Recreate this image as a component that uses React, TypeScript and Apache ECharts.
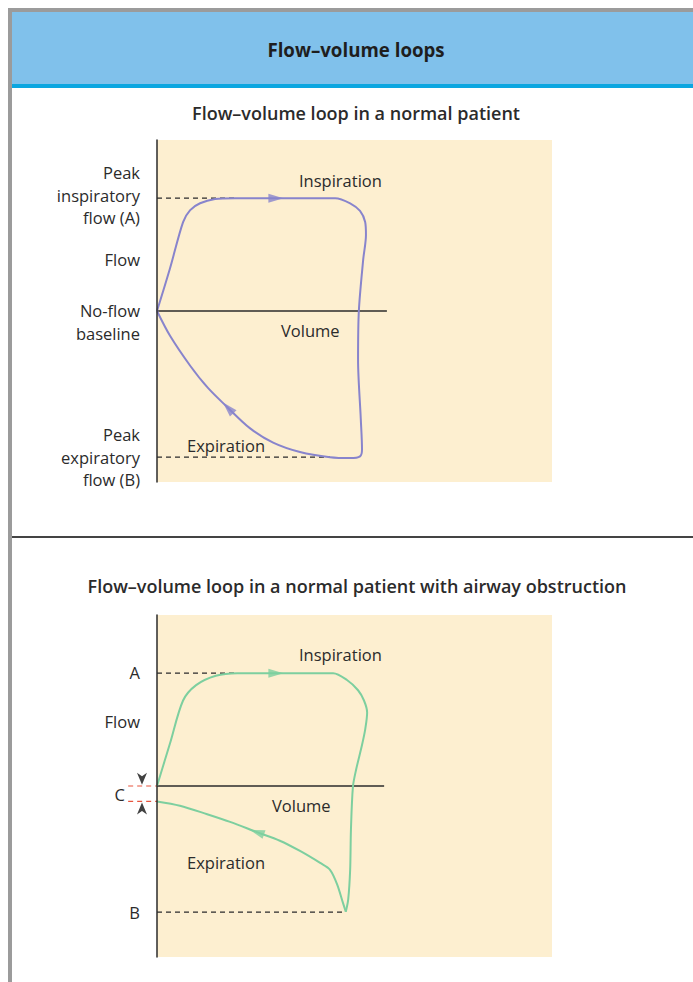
import React, { useEffect, useRef } from "react";
import * as echarts from "echarts";

// ---------- data (volume in arbitrary units 0..100, flow in arbitrary units -10..10) ----------
const loop1Volume = [0, 3.3, 6.6, 8.4, 10.9, 14.7, 19.7, 31.1, 45.1, 48.9, 51.4, 52.7, 52.9, 52.2, 51.1, 50.9, 51.6, 51.9, 51.4, 48.9, 43.8, 36.2, 29.4, 23.5, 18.0, 12.9, 8.4, 3.3, 0];
const loop1Flow = [0, 2.5, 5.2, 5.9, 6.3, 6.55, 6.6, 6.6, 6.6, 6.3, 5.85, 5.2, 4.45, 3.0, 0, -2.85, -6.35, -8.1, -8.5, -8.6, -8.55, -8.25, -7.7, -6.85, -5.67, -4.5, -3.2, -1.45, 0];

const loop2InspVolume = [0, 3.3, 6.6, 9.9, 14.9, 20.3, 31.1, 44.6, 48.1, 50.9, 52.4, 53.2, 52.7, 51.9, 50.4, 49.6, 49.1, 48.9, 48.4, 47.8];
const loop2InspFlow = [0, 2.5, 5.0, 5.9, 6.45, 6.6, 6.6, 6.6, 6.2, 5.6, 5.0, 4.3, 3.3, 2.4, 0.95, -0.05, -2.55, -4.9, -6.65, -7.35];
const loop2ExpVolume = [47.8, 47.1, 45.6, 43.8, 41.3, 36.2, 31.1, 25.3, 18.5, 12.7, 5.8, 0];
const loop2ExpFlow = [-7.35, -6.85, -5.75, -4.9, -4.5, -3.8, -3.2, -2.7, -2.1, -1.65, -1.15, -0.9];

const peakInsp1 = 6.6;
const peakExp1 = -8.55;
const peakInsp2 = 6.6;
const peakExp2 = -7.37;
const cGapTop = 0;
const cGapBottom = -0.9;

const titleText = "Flow\u2013volume loops";
const subtitles = ["Flow\u2013volume loop in a normal patient", "Flow\u2013volume loop in a normal patient with airway obstruction"];
const sideLabels1 = ["Peak\ninspiratory\nflow (A)", "Flow", "No-flow\nbaseline", "Peak\nexpiratory\nflow (B)"];
const sideLabels2 = ["A", "Flow", "C", "B"];
const plotLabels = ["Inspiration", "Volume", "Expiration"];

const zip = (a: number[], b: number[]) => a.map((v, i) => [v, b[i]]);

const PURPLE = "#8884cc";
const GREEN = "#7dcf9f";
const INK = "#2b2b2b";
const CREAM = "#fdefd0";
const FONT = "'Open Sans', 'Noto Sans', sans-serif";
const ARROW_DOWN = "path://M0,0 L5,3.5 L10,0 L5,12 Z";
const ARROW_UP = "path://M5,0 L10,12 L5,8.5 L0,12 Z";

export default function App() {
  const ref = useRef<HTMLDivElement>(null);
  useEffect(() => {
    if (!ref.current) return;
    const chart = echarts.init(ref.current, undefined, { renderer: "svg" });

    const lineS = (data: number[][], gi: number, color: string, extra: any = {}) => ({
      type: "line",
      xAxisIndex: gi,
      yAxisIndex: gi,
      data,
      showSymbol: false,
      symbol: "none",
      silent: true,
      clip: false,
      lineStyle: { color, width: 2 },
      ...extra,
    });
    const dashS = (data: number[][], gi: number, color = INK) =>
      lineS(data, gi, color, { lineStyle: { color, width: 1.2, type: [5, 4] }, z: 3 });
    const arrowS = (pt: number[], gi: number, color: string, rot: number, symbol = "triangle", size: number[] = [9, 15]) => ({
      type: "scatter",
      xAxisIndex: gi,
      yAxisIndex: gi,
      data: [pt],
      symbol,
      symbolSize: size,
      symbolRotate: rot,
      itemStyle: { color },
      silent: true,
      clip: false,
      z: 5,
    });
    const creamS = (gi: number) => ({
      type: "line",
      xAxisIndex: gi,
      yAxisIndex: gi,
      data: [],
      silent: true,
      z: 0,
      markArea: {
        silent: true,
        itemStyle: { color: CREAM },
        data: [[{ coord: [0, -10] }, { coord: [100, 10] }]],
      },
    });

    const txt = (text: string, x: number, y: number, align = "right", extra: any = {}) => ({
      type: "text",
      x,
      y,
      z: 100,
      silent: true,
      style: {
        text,
        fill: INK,
        font: `16.5px ${FONT}`,
        align,
        verticalAlign: "middle",
        lineHeight: 22.5,
        ...extra,
      },
    });

    const yAx = (gi: number) => ({
      type: "value",
      gridIndex: gi,
      min: -10,
      max: 10,
      axisLine: { show: true, onZero: true, lineStyle: { color: INK, width: 1.5 } },
      axisTick: { show: false },
      axisLabel: { show: false },
      splitLine: { show: false },
      z: 10,
    });
    const xAx = (gi: number) => ({
      type: "value",
      gridIndex: gi,
      min: -10,
      max: 100,
      axisLine: { show: false },
      axisTick: { show: false },
      axisLabel: { show: false },
      splitLine: { show: false },
    });

    chart.setOption({
      animation: false,
      backgroundColor: "#ffffff",
      grid: [
        { left: 117.5, top: 140, width: 434.5, height: 342, show: false },
        { left: 117.5, top: 615, width: 434.5, height: 342, show: false },
      ],
      xAxis: [xAx(0), xAx(1)],
      yAxis: [yAx(0), yAx(1)],
      series: [
        creamS(0),
        creamS(1),
        // panel 1
        lineS([[0, 0], [58.2, 0]], 0, INK, { lineStyle: { color: INK, width: 1.3 }, z: 2 }),
        dashS([[0, peakInsp1], [20.5, peakInsp1]], 0),
        dashS([[0, peakExp1], [43.8, peakExp1]], 0),
        lineS(zip(loop1Volume, loop1Flow), 0, PURPLE, { smooth: 0.3, z: 4 }),
        arrowS([30.1, peakInsp1], 0, PURPLE, -90),
        arrowS([18.0, -5.67], 0, PURPLE, 43),
        // panel 2
        lineS([[0, 0], [57.5, 0]], 1, INK, { lineStyle: { color: INK, width: 1.3 }, z: 2 }),
        dashS([[0, peakInsp2], [20.5, peakInsp2]], 1),
        dashS([[0, peakExp2], [47.6, peakExp2]], 1),
        dashS([[-7.3, cGapTop], [0, cGapTop]], 1, "#e8553e"),
        dashS([[-7.3, cGapBottom], [0, cGapBottom]], 1, "#e8553e"),
        lineS(zip(loop2InspVolume, loop2InspFlow), 1, GREEN, { smooth: 0.3, z: 4 }),
        lineS(zip(loop2ExpVolume, loop2ExpFlow), 1, GREEN, { smooth: 0.3, z: 4 }),
        arrowS([30.1, peakInsp2], 1, GREEN, -90),
        arrowS([25.3, -2.7], 1, GREEN, 71),
        arrowS([-3.8, 0.42], 1, "#111111", 0, ARROW_DOWN, [10, 12]),
        arrowS([-3.8, -1.32], 1, "#111111", 0, ARROW_UP, [10, 12]),
      ],
      graphic: [
        { type: "rect", z: 50, shape: { x: 8, y: 8, width: 685, height: 4 }, style: { fill: "#9b9b9b" }, silent: true },
        { type: "rect", z: 50, shape: { x: 8, y: 8, width: 4, height: 974 }, style: { fill: "#9b9b9b" }, silent: true },
        { type: "rect", z: 50, shape: { x: 12, y: 12, width: 681, height: 72 }, style: { fill: "#80c1eb" }, silent: true },
        { type: "rect", z: 50, shape: { x: 12, y: 84, width: 681, height: 4 }, style: { fill: "#0ba6e0" }, silent: true },
        { type: "rect", z: 50, shape: { x: 12, y: 536, width: 681, height: 2 }, style: { fill: "#444444" }, silent: true },
        txt(titleText, 356, 49, "center", { font: `bold 18.7px ${FONT}`, fill: "#1e1e1e" }),
        txt(subtitles[0], 356, 113, "center", { font: `600 18px ${FONT}` }),
        txt(subtitles[1], 357, 586, "center", { font: `600 18px ${FONT}` }),
        // panel 1 side labels
        txt(sideLabels1[0], 140, 195),
        txt(sideLabels1[1], 140, 259),
        txt(sideLabels1[2], 140, 322),
        txt(sideLabels1[3], 140, 457),
        // panel 1 plot labels
        txt(plotLabels[0], 299, 180, "left"),
        txt(plotLabels[1], 281, 330, "left"),
        txt(plotLabels[2], 187, 445, "left"),
        // panel 2 side labels
        txt(sideLabels2[0], 140, 672),
        txt(sideLabels2[1], 140, 721),
        txt(sideLabels2[2], 125, 794),
        txt(sideLabels2[3], 140, 912),
        // panel 2 plot labels
        txt(plotLabels[0], 299, 654, "left"),
        txt(plotLabels[1], 272, 805, "left"),
        txt(plotLabels[2], 187, 862, "left"),
      ],
    });
    return () => chart.dispose();
  }, []);
  return <div ref={ref} style={{ position: "fixed", left: 0, top: 0, width: 693, height: 982 }} />;
}
